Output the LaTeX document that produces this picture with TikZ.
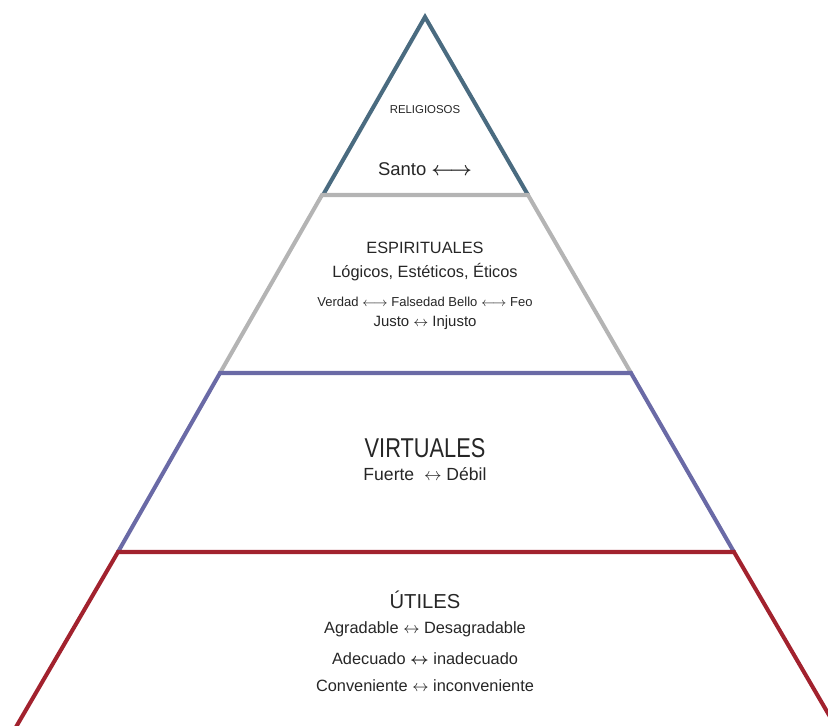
\documentclass[tikz,border=0pt]{standalone}
\usepackage{amsmath}
\usepackage{fontspec}
\setmainfont{Liberation Sans}
\newfontfamily\narrowsans{Liberation Sans}[FakeStretch=0.8]
\definecolor{steelline}{HTML}{4A6B80}
\definecolor{grayline}{HTML}{B4B4B4}
\definecolor{blueline}{HTML}{6A6AA6}
\definecolor{redline}{HTML}{A2222E}
\newcommand{\lra}{$\leftrightarrow$}
\newcommand{\llra}{$\longleftrightarrow$}
\tikzset{
  layer/.style={line width=2.3pt, line join=miter},
  lab/.style={inner sep=0pt, text=black!85}
}

\begin{document}
\begin{tikzpicture}[x=0.02cm, y=-0.02cm]

        \useasboundingbox (0,0) rectangle (828,726);
        \clip (0,0) rectangle (828,726);

        % religiosos
        \draw [steelline, layer] (323,195) -- (425,17) -- (528,195);
        % espirituales
        \draw [grayline, layer] (220,373) -- (322,195) -- (528,195) -- (631,373);
        % virtuales
        \draw [blueline, layer] (118,552) -- (220,373) -- (631,373) -- (734,552);
        % utiles
        \draw [redline, layer] (16,727) -- (118,552) -- (734,552) -- (836,727);

        \node [lab, font=\fontsize{6.5}{8}\selectfont] (religiosos) at (425,110) {RELIGIOSOS};
        \node [lab, font=\fontsize{10.5}{13}\selectfont] (santo) at (425,169) {Santo $\boldsymbol{\longleftrightarrow}$};

        \node [lab, font=\fontsize{9.3}{11}\selectfont] (espirituales) at (425,248) {ESPIRITUALES};
        \node [lab, font=\fontsize{9.3}{11}\selectfont] (logicos) at (425,272) {Lógicos, Estéticos, Éticos};
        \node [lab, font=\fontsize{7.4}{9}\selectfont] (verdad) at (425,302) {Verdad \llra{} Falsedad Bello \llra{} Feo};
        \node [lab, font=\fontsize{8.5}{10}\selectfont] (justo) at (425,323) {Justo \lra{} Injusto};

        \node [lab, font=\narrowsans\fontsize{15.5}{18}\selectfont] (virtuales) at (425,448) {VIRTUALES};
        \node [lab, font=\fontsize{10}{12}\selectfont] (fuerte) at (425,474) {Fuerte \ \lra{} Débil};

        \node [lab, font=\fontsize{11.5}{13}\selectfont] (utiles) at (425,600) {ÚTILES};
        \node [lab, font=\fontsize{9.3}{11}\selectfont] (agradable) at (425,629) {Agradable \lra{} Desagradable};
        \node [lab, font=\fontsize{9.3}{11}\selectfont] (adecuado) at (425,659) {Adecuado $\boldsymbol{\leftrightarrow}$ inadecuado};
        \node [lab, font=\fontsize{9.3}{11}\selectfont] (conveniente) at (425,686) {Conveniente \lra{} inconveniente};

\end{tikzpicture}
\end{document}
